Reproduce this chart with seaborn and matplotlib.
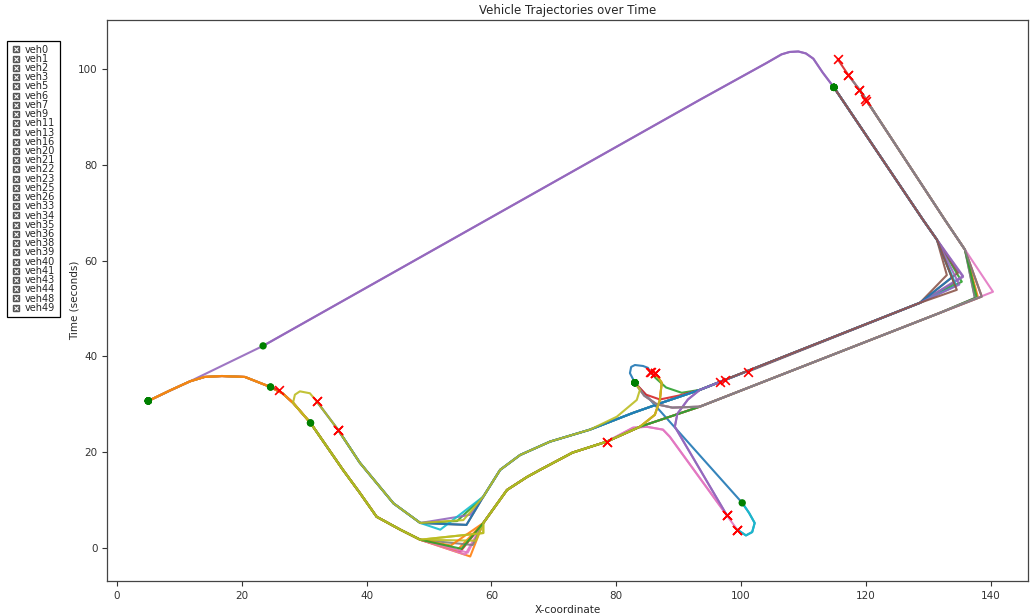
import matplotlib
matplotlib.use("Agg")
import matplotlib.pyplot as plt
from matplotlib.lines import Line2D
import seaborn as sns
import pandas as pd

# ---------------- road pieces (x, value) ----------------
CURVE = [(5.0, 30.7), (8.5, 32.9), (11.7, 34.8), (14.0, 35.7), (16.8, 35.9), (20.5, 35.7),
         (24.6, 33.6), (26.5, 32.3), (28.2, 30.3), (31.0, 26.1), (33.6, 21.2), (36.2, 16.3),
         (38.9, 11.5), (41.6, 6.5), (45.4, 3.8), (48.6, 1.7)]
LOWER = [(58.7, 5.2), (62.5, 12.1), (65.7, 14.8), (67.8, 16.3), (73.0, 19.9), (78.5, 22.2), (83.8, 25.3)]
DIAG = [(5.0, 30.7), (11.7, 34.8), (23.4, 42.2), (93.4, 93.6), (104.1, 101.3), (106.5, 103.1),
        (107.8, 103.6), (109.2, 103.7), (110.4, 103.3), (111.6, 102.2), (113.1, 99.3), (114.9, 96.2)]
LANE1 = [(114.9, 96.2), (129.2, 68.5), (131.4, 64.4)]
RET_UP = [(128.7, 51.2), (93.4, 33.0), (87.5, 30.4), (82.7, 28.2)]
UPPER_R = [(75.8, 24.7), (69.4, 22.2), (64.6, 19.4), (61.4, 16.3), (58.7, 10.7)]
UPPER_L = [(48.6, 5.2), (44.3, 9.3), (38.9, 17.8), (35.4, 24.7), (32.0, 30.6)]
RET_LOW = [(93.4, 29.5), (131.9, 49.1)]
LANE2 = [(135.9, 62.3), (132.7, 68.5), (119.0, 95.7), (117.2, 98.8), (115.5, 102.1)]
LANE_C = [(83.0, 34.5), (100.2, 9.4)]
UTURN = [(101.3, 7.3), (102.2, 5.2), (101.8, 3.3), (100.8, 2.6), (99.4, 3.8)]
LOOP = [(83.0, 34.5), (82.2, 36.5), (82.4, 37.8), (83.0, 38.2), (84.3, 38.0), (85.1, 37.6), (85.4, 36.8)]
TURN_UP = [(86.2, 27.8), (87.0, 30.9), (87.3, 34.5), (86.2, 36.6)]
TURN_RIGHT = [(82.7, 25.1), (84.9, 25.3), (87.5, 24.7), (88.6, 23.2)]
TURN_GREEN = [(90.5, 32.4), (88.0, 33.5), (86.3, 35.5), (85.5, 36.7)]
TURN_PURPLE = [(91.5, 31.0), (89.8, 28.0), (89.4, 25.3)]
TURN_GRAY = [(84.5, 31.8), (86.5, 30.0), (89.0, 29.3)]
TURN_OLIVE = [(83.8, 33.0), (83.3, 30.9), (80.1, 27.4)]
TURN_EAST = [(84.8, 32.0), (87.0, 31.0), (90.0, 31.8), (93.4, 33.0)]
BUMP = [(30.9, 32.3), (29.3, 32.7), (28.5, 32.0)]

VEHICLES = {
    "veh0": LANE_C + UTURN,
    "veh1": CURVE + [(56.6, -1.8)] + LOWER + TURN_UP,
    "veh2": LANE1 + [(135.4, 55.6)] + RET_UP[:2] + TURN_GREEN,
    "veh3": CURVE[9:] + [(55.0, -0.8)] + LOWER + RET_LOW + [(138.6, 52.5)] + LANE2,
    "veh5": DIAG + LANE1[1:] + [(135.6, 56.8)] + RET_UP[:2] + TURN_PURPLE + [(97.7, 6.9)],
    "veh6": LANE1 + [(134.8, 57.5)] + RET_UP + UPPER_R + [(56.0, 4.8)] + UPPER_L[:4],
    "veh7": CURVE + [(55.8, -1.4)] + LOWER[:6] + TURN_RIGHT + [(99.4, 3.8)],
    "veh9": LANE_C[:1] + TURN_GRAY + RET_LOW + [(137.5, 52.2)] + LANE2[:3],
    "veh11": CURVE[6:] + [(58.7, 3.1)] + LOWER[:6],
    "veh13": LANE_C[1:] + UTURN,
    "veh16": LOOP,
    "veh20": CURVE + [(54.5, -0.5)] + LOWER + RET_LOW + [(138.0, 52.3)] + LANE2[:3] + [(119.9, 93.8)],
    "veh21": LANE1 + [(134.2, 55.3)] + RET_UP + UPPER_R + [(54.5, 5.6)] + UPPER_L[:4],
    "veh22": LANE_C[:1] + TURN_EAST + [(96.6, 34.7)],
    "veh23": DIAG[2:] + LANE1[1:] + [(135.6, 56.6)] + RET_UP + UPPER_R + [(56.6, 6.9)] + UPPER_L,
    "veh25": LANE1 + [(133.0, 57.0)] + RET_UP[:1] + [(101.1, 36.8)],
    "veh26": CURVE + [(56.2, -1.0)] + LOWER[:6] + TURN_RIGHT + [(97.7, 6.9)],
    "veh33": CURVE + [(57.0, 0.6)] + LOWER + RET_LOW + [(137.5, 52.2)] + LANE2[:3] + [(120.1, 93.3)],
    "veh34": CURVE + [(57.5, 1.5)] + LOWER[:6],
    "veh35": LANE1 + [(134.5, 54.8)] + RET_UP + UPPER_R + [(51.8, 3.8)] + UPPER_L[:4],
    "veh36": LANE1 + [(133.8, 56.5)] + RET_UP + UPPER_R + [(56.0, 4.8)] + UPPER_L,
    "veh38": CURVE + [(53.5, 0.5)] + LOWER + TURN_UP,
    "veh39": CURVE[9:] + [(55.2, -0.2)] + LOWER + RET_LOW + [(137.8, 52.3)] + LANE2[:3],
    "veh40": CURVE[6:7] + [(25.9, 33.0)],
    "veh41": LANE1 + [(135.0, 55.0)] + RET_UP[:2] + TURN_PURPLE + [(97.7, 6.9)],
    "veh43": LANE1 + [(134.6, 53.9)] + RET_UP[:1] + [(97.4, 35.1)],
    "veh44": LANE_C[:1] + TURN_GRAY + RET_LOW + [(140.4, 53.5)] + LANE2[:4],
    "veh48": LANE_C[:1] + TURN_GRAY + RET_LOW + [(138.6, 52.5)] + LANE2[:4],
    "veh49": LANE_C[:1] + TURN_OLIVE + UPPER_R + [(55.5, 5.8)] + UPPER_L + BUMP + CURVE[8:]
             + [(58.7, 3.1)] + LOWER + TURN_UP,
}

X_TICKS = [0, 20, 40, 60, 80, 100, 120, 140]
Y_TICKS = [0, 20, 40, 60, 80, 100]

# ---------------- build long table ----------------
rows = []
for name, pts in VEHICLES.items():
    for i, (x, y) in enumerate(pts):
        rows.append({"vehicle": name, "step": i, "x": x, "y": y})
df = pd.DataFrame(rows)
names = list(VEHICLES.keys())
tab = sns.color_palette("tab10")
palette = {n: tab[i % 10] for i, n in enumerate(names)}

starts = df.groupby("vehicle", sort=False).first().reset_index()
ends = df.groupby("vehicle", sort=False).last().reset_index()

sns.set_style("ticks")
plt.rcParams["font.family"] = ["DejaVu Sans"]

fig = plt.figure(figsize=(10.3, 6.16), dpi=100)
ax = fig.add_axes([0.104, 0.057, 0.894, 0.9107])

sns.lineplot(data=df, x="x", y="y", hue="vehicle", hue_order=names, units="vehicle",
             estimator=None, sort=False, palette=palette, legend=False, lw=1.5,
             alpha=0.9, ax=ax)
sns.scatterplot(data=starts, x="x", y="y", color="green", marker="o", s=28,
                edgecolor="none", ax=ax, zorder=5)
sns.scatterplot(data=ends, x="x", y="y", color="red", marker="x", s=40,
                linewidth=1.2, ax=ax, zorder=6)

ax.set_xlim(-1.6, 146)
ax.set_ylim(-6.9, 110.3)
ax.set_xticks(X_TICKS)
ax.set_yticks(Y_TICKS)
ax.tick_params(labelsize=7.5, length=3.5, width=0.8, colors="#333333")
for s in ax.spines.values():
    s.set_linewidth(0.9)
    s.set_color("#444444")
ax.set_title("Vehicle Trajectories over Time", fontsize=8.5, pad=4)
ax.set_xlabel("X-coordinate", fontsize=7.5, labelpad=3)
ax.set_ylabel("Time (seconds)", fontsize=7.5, labelpad=-1)

handles = [(Line2D([], [], marker="s", color="#555555", markersize=5, linestyle="none"),
            Line2D([], [], marker="x", color="white", markersize=3.2, mew=0.8, linestyle="none"))
           for _ in names]
leg = fig.legend(handles, names, loc="upper left", bbox_to_anchor=(0.007, 0.934),
                 fontsize=7, labelspacing=-0.08, handlelength=1.1, handletextpad=0.35,
                 handleheight=0.5, borderpad=0.4, borderaxespad=0, fancybox=False,
                 framealpha=1, edgecolor="black")
leg.get_frame().set_linewidth(0.9)

fig.savefig("out.png", dpi=100)
